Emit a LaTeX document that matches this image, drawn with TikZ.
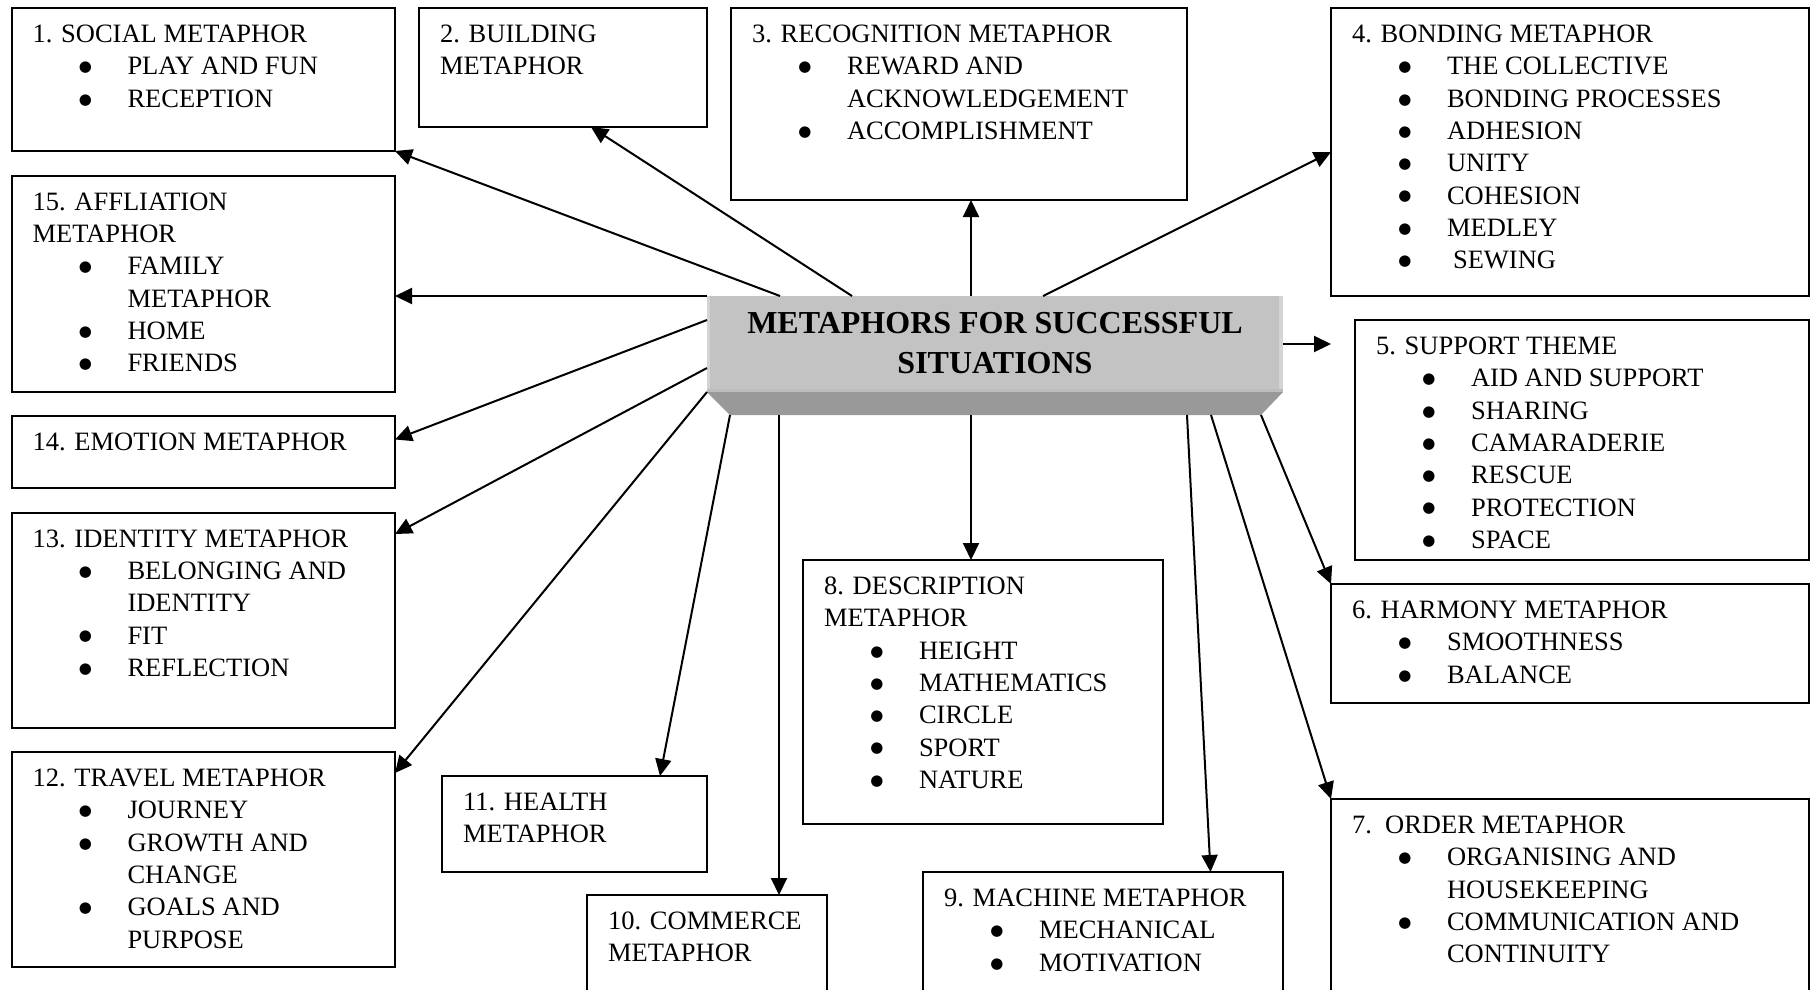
\documentclass[tikz,border=0pt]{standalone}
\usepackage{fontspec}
\setmainfont{Liberation Serif}
\newfontfamily\bulfont{DejaVu Sans}
\usetikzlibrary{arrows.meta,calc}
\definecolor{facegray}{HTML}{C3C3C3}
\definecolor{edgegray}{HTML}{D4D4D4}
\definecolor{bevelgray}{HTML}{999999}
\newcommand\bul{\raisebox{3.2pt}{\bulfont\fontsize{15}{15}\selectfont ●}}
\newcommand\ttl[1]{\hbox{#1}}
\newcommand\itm[1]{\hbox{\makebox[106pt][c]{\bul}\kern-11pt #1}}
\newcommand\cnt[1]{\hbox{\kern95pt #1}}
\tikzset{
 box/.style={draw, line width=2pt, anchor=north west, inner sep=0pt, outer sep=0pt, rectangle},
 txt/.style={anchor=base west, inner sep=0pt, outer sep=0pt, font=\fontsize{26.5}{32.3}\selectfont},
 arr/.style={line width=2pt, -{Triangle[length=17pt,width=16pt]}},
}
\newcommand\mkbox[6]{%
 \node[box, minimum width=#4pt, minimum height=#5pt] (#1) at (#2,#3) {};
 \node[txt] (#1t) at ($(#1.north west)+(21,34.6)$) {\vtop{\baselineskip=32.3pt #6}};
}
\begin{document}
\begin{tikzpicture}[x=1pt,y=-1pt]
\useasboundingbox (0,0) rectangle (1811,989);
\clip (0,0) rectangle (1811,989);
\fill[white] (0,0) rectangle (1811,989);
% boxes
\mkbox{b1}{11.5}{8}{383.5}{143}{\ttl{1. SOCIAL METAPHOR}\itm{PLAY AND FUN}\itm{RECEPTION}}
\mkbox{b2}{419}{8}{288}{119}{\ttl{2. BUILDING}\ttl{METAPHOR}}
\mkbox{b3}{731}{8}{456}{192}{\ttl{3. RECOGNITION METAPHOR}\itm{REWARD AND}\cnt{ACKNOWLEDGEMENT}\itm{ACCOMPLISHMENT}}
\mkbox{b4}{1331}{8}{478}{288}{\ttl{4. BONDING METAPHOR}\itm{THE COLLECTIVE}\itm{BONDING PROCESSES}\itm{ADHESION}\itm{UNITY}\itm{COHESION}\itm{MEDLEY}\itm{\kern6pt SEWING}}
\mkbox{b15}{11.5}{175.5}{383.5}{216}{\ttl{15. AFFLIATION}\ttl{METAPHOR}\itm{FAMILY}\cnt{METAPHOR}\itm{HOME}\itm{FRIENDS}}
\mkbox{b5}{1355}{320}{454}{240}{\ttl{5. SUPPORT THEME}\itm{AID AND SUPPORT}\itm{SHARING}\itm{CAMARADERIE}\itm{RESCUE}\itm{PROTECTION}\itm{SPACE}}
\mkbox{b14}{11.5}{416}{383.5}{72}{\ttl{14. EMOTION METAPHOR}}
\mkbox{b13}{11.5}{512.5}{383.5}{215.5}{\ttl{13. IDENTITY METAPHOR}\itm{BELONGING AND}\cnt{IDENTITY}\itm{FIT}\itm{REFLECTION}}
\mkbox{b6}{1331}{584}{478}{119}{\ttl{6. HARMONY METAPHOR}\itm{SMOOTHNESS}\itm{BALANCE}}
\mkbox{b8}{803}{560}{360}{264}{\ttl{8. DESCRIPTION}\ttl{METAPHOR}\itm{HEIGHT}\itm{MATHEMATICS}\itm{CIRCLE}\itm{SPORT}\itm{NATURE}}
\mkbox{b12}{11.5}{752}{383.5}{215}{\ttl{12. TRAVEL METAPHOR}\itm{JOURNEY}\itm{GROWTH AND}\cnt{CHANGE}\itm{GOALS AND}\cnt{PURPOSE}}
\mkbox{b11}{442}{776}{265}{96}{\ttl{11. HEALTH}\ttl{METAPHOR}}
\mkbox{b10}{587}{895}{240}{110}{\ttl{10. COMMERCE}\ttl{METAPHOR}}
\mkbox{b9}{923}{872}{360}{130}{\ttl{9. MACHINE METAPHOR}\itm{MECHANICAL}\itm{MOTIVATION}}
\mkbox{b7}{1331}{799}{478}{210}{\ttl{7.\ \ ORDER METAPHOR}\itm{ORGANISING AND}\cnt{HOUSEKEEPING}\itm{COMMUNICATION AND}\cnt{CONTINUITY}}
% central node
\node[fill=facegray, minimum width=576pt, minimum height=96pt, anchor=north west, inner sep=0pt, outer sep=0pt] (ctr) at (707,296) {};
\fill[edgegray] (ctr.north west) rectangle ++(3,96);
\fill[edgegray] (ctr.north east) rectangle ++(-4,96);
\coordinate (bl) at ($(ctr.south west)+(23,23)$);
\coordinate (br) at ($(ctr.south east)+(-22,23)$);
\fill[bevelgray] (ctr.south west) -- (ctr.south east) -- (br) -- (bl) -- cycle;
\fill[facegray!85!bevelgray] (ctr.south west) rectangle ++(576,-3);
\node[anchor=base, inner sep=0pt, font=\fontsize{32}{40}\selectfont\bfseries] (ctrt) at (995,333)
 {\vtop{\baselineskip=40pt\hbox to 560pt{\hss METAPHORS FOR SUCCESSFUL\hss}\hbox to 560pt{\hss SITUATIONS\hss}}};
% connectors
\coordinate (a5e) at (1331,344);
\draw[arr] ([xshift=73pt]ctr.north west) -- (b1.south east);
\draw[arr] ([xshift=145pt]ctr.north west) -- ([xshift=172pt]b2.south west);
\draw[arr] ([xshift=264pt]ctr.north west) -- ([xshift=240pt]b3.south west);
\draw[arr] ([xshift=336pt]ctr.north west) -- ([yshift=-144pt]b4.north west);
\draw[arr] ([yshift=-48pt]ctr.north east) -- (a5e);
\draw[arr] (br) -- (b6.north west);
\draw[arr] ([xshift=-50pt]br) -- (b7.north west);
\draw[arr] ([xshift=-74pt]br) -- ([xshift=287.5pt]b9.north west);
\draw[arr] ([xshift=241pt]bl) -- ([xshift=168pt]b8.north west);
\draw[arr] ([xshift=49pt]bl) -- ([xshift=192pt]b10.north west);
\draw[arr] (bl) -- ([xshift=218pt]b11.north west);
\draw[arr] (ctr.south west) -- ([yshift=-21pt]b12.north east);
\draw[arr] ([yshift=-72pt]ctr.north west) -- ([yshift=-21.5pt]b13.north east);
\draw[arr] ([yshift=-24pt]ctr.north west) -- ([yshift=-23.5pt]b14.north east);
\draw[arr] (ctr.north west) -- (ctr.north west -| b15.east);
\end{tikzpicture}
\end{document}
